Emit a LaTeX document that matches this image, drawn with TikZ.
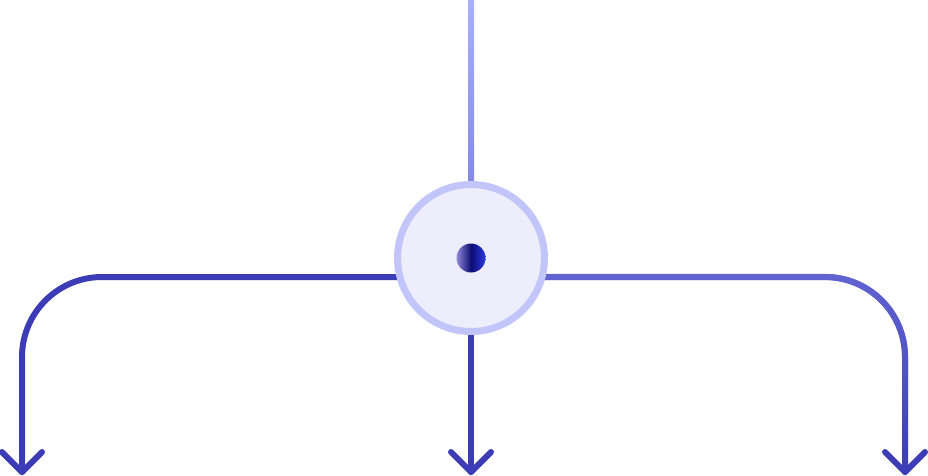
\documentclass[tikz,border=0pt]{standalone}
\usetikzlibrary{fadings}
\definecolor{mainblue}{HTML}{3C3DB6}
\definecolor{lightline}{HTML}{6264D2}
\definecolor{topA}{HTML}{A9B1F8}
\definecolor{topB}{HTML}{8388E3}
\definecolor{hubfill}{HTML}{EEEDFB}
\definecolor{hubring}{HTML}{C1C5FA}
\definecolor{dotL}{HTML}{9189D8}
\definecolor{dotM}{HTML}{0C0C72}
\definecolor{dotR}{HTML}{2A3BE2}
\tikzfading[name=downfade, top color=transparent!0, bottom color=transparent!100]
\begin{document}
\begin{tikzpicture}[x=1pt,y=-1pt,
  mainline/.style={draw=mainblue, line width=6pt, line cap=round, line join=round},
  hubnode/.style={circle, draw=hubring, fill=hubfill, line width=7pt, minimum size=147pt, inner sep=0pt},
  chevron/.style={draw=mainblue, line width=6pt, line cap=round, line join=round}]
\useasboundingbox (0,0) rectangle (928,475);
\fill[white] (0,0) rectangle (928,475);
% coordinates
\coordinate (hubc) at (471,258);
\coordinate (top) at (471,0);
\coordinate (jl) at (471,277);
\coordinate (tipL) at (22,472);
\coordinate (tipM) at (471,472);
\coordinate (tipR) at (905,472);
% top incoming line
\shade[top color=topA, bottom color=topB] (468,0) rectangle (474,190);
% left branch
\draw[mainline, rounded corners=80pt] (jl) -- (22,277) -- (tipL);
% middle branch
\draw[mainline] (hubc) -- (tipM);
% right branch
\draw[mainline, rounded corners=80pt] (jl) -- (905,277) -- (tipR);
\draw[draw=lightline, line width=6pt, line cap=round, rounded corners=80pt,
      path fading=downfade] (jl) -- (905,277) -- (tipR);
% arrow heads
\draw[chevron] (2,452) -- (tipL) -- (42,452);
\draw[chevron] (451,452) -- (tipM) -- (491,452);
\draw[chevron] (885,452) -- (tipR) -- (925,452);
% hub
\node[hubnode] (hub) at (hubc) {};
\shade[left color=dotL, right color=dotR, middle color=dotM] (hub.center) circle[radius=14.5pt];
\end{tikzpicture}
\end{document}
